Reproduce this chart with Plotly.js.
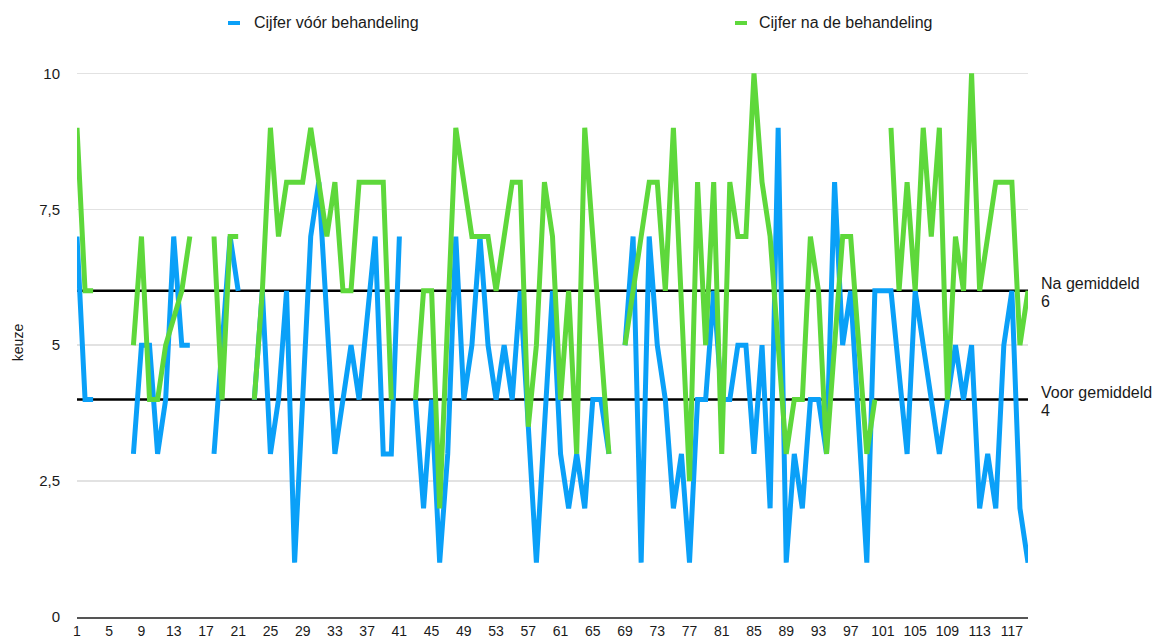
<!DOCTYPE html>
<html>
<head>
<meta charset="utf-8">
<script src="https://cdn.plot.ly/plotly-3.0.1.min.js"></script>
<style>
  html, body { margin: 0; padding: 0; background: #ffffff; }
  #chart { width: 1157px; height: 641px; }
</style>
</head>
<body>
<div id="chart"></div>
<script>
// ---- data ----
const seriesNames = ['Cijfer vóór behandeling', 'Cijfer na de behandeling'];
const seriesColors = ['#0aa0f8', '#5ed83b'];

const voor = [
  7, 4, 4, null, null, null, null, 3, 5, 5,
  3, 4, 7, 5, 5, null, null, 3, 5, 7,
  6, null, 4, 6, 3, 4, 6, 1, 4, 7,
  8, 5.5, 3, 4, 5, 4, 5.5, 7, 3, 3,
  7, null, 4, 2, 4, 1, 3, 7, 4, 5,
  7, 5, 4, 5, 4, 6, 3.5, 1, 3.5, 6,
  3, 2, 3, 2, 4, 4, 3, null, 5, 7,
  1, 7, 5, 4, 2, 3, 1, 4, 4, 6,
  4, 4, 5, 5, 3, 5, 2, 9, 1, 3,
  2, 4, 4, 3, 8, 5, 6, 3.5, 1, 6,
  6, 6, 4.5, 3, 6, 5, 4, 3, 4, 5,
  4, 5, 2, 3, 2, 5, 6, 2, 1
];

const na = [
  9, 6, 6, null, null, null, null, 5, 7, 4,
  4, 5, 5.5, 6, 7, null, null, 7, 4, 7,
  7, null, 4, 6, 9, 7, 8, 8, 8, 9,
  8, 7, 8, 6, 6, 8, 8, 8, 8, 4,
  null, null, 4, 6, 6, 2, 5.5, 9, 8, 7,
  7, 7, 6, 7, 8, 8, 3.5, 5, 8, 7,
  4, 6, 3, 9, 7, 5, 3, null, 5, 6,
  7, 8, 8, 6, 9, 5.5, 2.5, 8, 5, 8,
  3, 8, 7, 7, 10, 8, 7, 5, 3, 4,
  4, 7, 6, 3, 5, 7, 7, 5, 3, 4,
  null, 9, 6, 8, 6, 9, 7, 9, 4, 7,
  6, 10, 6, 7, 8, 8, 8, 5, 6
];

const avgLabels = ['Na gemiddeld', 'Voor gemiddeld'];
const avgValues = [6, 4];

const yTickVals = [0, 2.5, 5, 7.5, 10];
const yTitle = 'keuze';

// category index 1..N
const xs = voor.map((_, i) => i + 1);
const xMax = xs.length;

// ---- geometry helpers (pixel -> paper) ----
const W = 1157, H = 641;
const M = { l: 77, r: 129, t: 68, b: 24 };
const pw = W - M.l - M.r, ph = H - M.t - M.b;
const px = v => (v - M.l) / pw;
const py = v => (H - M.b - v) / ph;

const FONT = '"Liberation Sans", Arial, Helvetica, sans-serif';
const TXT = '#1a1a1a';

const traces = [];
// average lines
avgValues.forEach((v, k) => {
  traces.push({
    x: [1, xMax], y: [v, v], mode: 'lines', type: 'scatter',
    line: { color: '#000000', width: 2.5 }, hoverinfo: 'skip', showlegend: false
  });
});
traces.push({
  x: xs, y: voor, name: seriesNames[0], type: 'scatter', mode: 'lines',
  line: { color: seriesColors[0], width: 5, shape: 'linear' }, connectgaps: false
});
traces.push({
  x: xs, y: na, name: seriesNames[1], type: 'scatter', mode: 'lines',
  line: { color: seriesColors[1], width: 5, shape: 'linear' }, connectgaps: false
});

const annotations = [];
const shapes = [];
// legend (custom, matching small swatches)
const legendPos = [{ sx: 228, tx: 252 }, { sx: 735, tx: 757 }];
seriesNames.forEach((n, k) => {
  annotations.push({
    xref: 'paper', yref: 'paper', x: px(legendPos[k].tx), y: py(23),
    xanchor: 'left', yanchor: 'middle', showarrow: false, text: n,
    font: { family: FONT, size: 16, color: TXT }
  });
  shapes.push({
    type: 'line', xref: 'paper', yref: 'paper',
    x0: px(legendPos[k].sx), x1: px(legendPos[k].sx + 12), y0: py(23), y1: py(23),
    line: { color: seriesColors[k], width: 4 }
  });
});
// average labels (two lines each)
avgValues.forEach((v, k) => {
  annotations.push({
    xref: 'paper', yref: 'y', x: 1, y: v, xshift: 11, yshift: 7,
    xanchor: 'left', yanchor: 'middle', align: 'left', showarrow: false,
    text: avgLabels[k],
    font: { family: FONT, size: 16, color: TXT }
  });
  annotations.push({
    xref: 'paper', yref: 'y', x: 1, y: v, xshift: 11, yshift: -11,
    xanchor: 'left', yanchor: 'middle', align: 'left', showarrow: false,
    text: String(v),
    font: { family: FONT, size: 16, color: TXT }
  });
});

const layout = {
  width: W, height: H,
  margin: M,
  paper_bgcolor: '#ffffff', plot_bgcolor: '#ffffff',
  separators: ', ',
  showlegend: false,
  font: { family: FONT, size: 15, color: TXT },
  xaxis: {
    range: [1, xMax], tickmode: 'linear', tick0: 1, dtick: 4,
    showgrid: false, zeroline: false, showline: true,
    linecolor: '#555555', linewidth: 2, ticks: '',
    ticklabelstandoff: 0,
    tickfont: { family: FONT, size: 14, color: TXT },
    fixedrange: true
  },
  yaxis: {
    range: [0, 10.1], tickmode: 'array', tickvals: yTickVals,
    showgrid: true, gridcolor: '#e2e2e2', gridwidth: 1.5,
    zeroline: false, showline: false, ticks: '',
    ticklabelstandoff: 16,
    tickfont: { family: FONT, size: 15, color: TXT },
    title: { text: yTitle, standoff: 12, font: { family: FONT, size: 14, color: TXT } },
    fixedrange: true
  },
  annotations: annotations,
  shapes: shapes
};

Plotly.newPlot('chart', traces, layout, { displayModeBar: false, staticPlot: true });
</script>
</body>
</html>
